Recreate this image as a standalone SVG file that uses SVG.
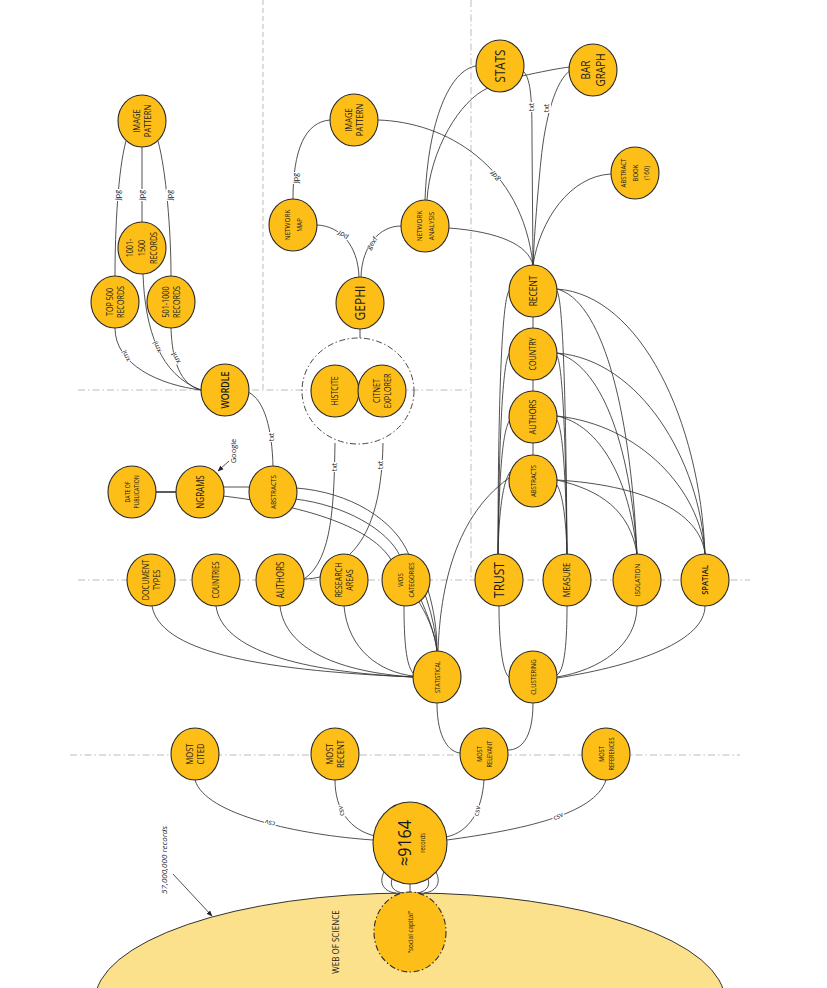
<svg xmlns="http://www.w3.org/2000/svg" width="827" height="988" viewBox="0 0 827 988">
<style>
.bg{fill:#ffffff}
.grid{fill:none;stroke:#b4b4b4;stroke-width:0.9;stroke-dasharray:7 3 1.5 3}
.grid2{fill:none;stroke:#b4b4b4;stroke-width:0.9;stroke-dasharray:5 3}
.node ellipse{fill:#FDBE17;stroke:#2a2a2a;stroke-width:1.1}
.node text{font-family:"Open Sans","Liberation Sans",sans-serif;fill:#1a1a1a;text-anchor:middle}
.dash{fill:none;stroke:#333;stroke-width:0.9;stroke-dasharray:6 2.5 1.5 2.5}
#connectors path{fill:none;stroke:#333;stroke-width:0.85}
#connectors path.thick{stroke-width:1.6}
.lbl{font-family:"Open Sans","Liberation Sans",sans-serif;font-size:7px;fill:#111;text-anchor:middle}
.lblbg{fill:#fff;stroke:none}
.note{font-family:"Open Sans","Liberation Sans",sans-serif;fill:#1a1a1a;text-anchor:middle}
</style>
<defs>
<marker id="arr" viewBox="0 0 10 10" refX="9" refY="5" markerWidth="6" markerHeight="6" orient="auto-start-reverse" markerUnits="userSpaceOnUse">
<path d="M0,1 L10,5 L0,9 z" fill="#222"/>
</marker>
</defs>
<rect class="bg" x="0" y="0" width="827" height="988"/>

<g id="web-of-science">
<ellipse cx="410" cy="1001" rx="315" ry="108" fill="#FCE18C" stroke="#333" stroke-width="1"/>
<text class="note" font-size="9.5" transform="translate(336,942) rotate(-90) scale(0.85,1)" y="3.4">WEB OF SCIENCE</text>
</g>

<g id="grid">
<path class="grid" d="M78,390 L470,390"/>
<path class="grid" d="M78,580 L750,580"/>
<path class="grid" d="M70,755 L740,755"/>
<path class="grid2" d="M263,0 L263,390"/>
<path class="grid" d="M471,0 L471,580"/>
</g>

<g id="connectors">
<path d="M126,141 C118,170 115,230 115,276"/>
<path d="M142,147 L142,222"/>
<path d="M158,141 C166,170 171,230 171,276"/>
<path d="M115,328 C115,365 160,385 201,390"/>
<path d="M143,274 C145,330 160,375 201,390"/>
<path d="M171,328 C172,360 180,385 201,390"/>
<path d="M248,392 C265,400 272,430 273,466"/>
<path class="thick" d="M156,492 L176,492"/>
<path d="M224,487 L249,487"/>
<path d="M223,496 C300,505 368,525 390,558 C405,585 432,610 437,651"/>
<path d="M296,488 C350,492 395,520 409,555 C422,585 435,615 437,651"/>
<path d="M295,499 C345,505 388,530 400,556 C416,590 433,620 437,651"/>
<path d="M428,590 C434,610 437,630 437,651"/>
<path d="M335,443 C334,500 333,560 304,579"/>
<path d="M304,579 C310,579 315,578 320,577"/>
<path d="M383,443 C382,500 370,535 350,554"/>
<path d="M360,329 L360,338"/>
<path d="M359,277 C358,245 340,226 317,225"/>
<path d="M361,277 C362,245 380,226 401,226"/>
<path d="M293,199 C293,150 305,122 330,120"/>
<path d="M378,120 C445,122 522,165 533,265"/>
<path d="M449,228 C500,232 528,245 533,265"/>
<path d="M425,200 C428,120 450,70 476,66"/>
<path d="M427,200 C430,150 460,100 488,88"/>
<path d="M524,72 C531,80 532,100 532,140 L533,265"/>
<path d="M522,76 C540,72 560,68 570,67"/>
<path d="M571,70 C555,80 545,120 541,160 C537,200 534,240 533,265"/>
<path d="M611,174 C570,176 540,220 533,265"/>
<path d="M533,317 L533,328"/>
<path d="M533,380 L533,391"/>
<path d="M533,443 L533,455"/>
<path d="M509,291 C502,300 498,400 498,554"/>
<path d="M509,354 C502,365 499,450 498,554"/>
<path d="M510,420 C502,430 499,480 498,554"/>
<path d="M510,472 C503,482 499,510 498,554"/>
<path d="M557,291 C563,300 566,400 567,554"/>
<path d="M557,356 C563,366 566,450 567,554"/>
<path d="M557,420 C563,430 566,480 567,554"/>
<path d="M557,485 C563,495 566,520 567,554"/>
<path d="M557,289 C600,300 630,400 637,554"/>
<path d="M557,353 C600,365 630,440 637,554"/>
<path d="M557,416 C600,425 630,480 637,554"/>
<path d="M557,480 C600,490 630,510 637,554"/>
<path d="M557,289 C640,295 700,420 705,554"/>
<path d="M557,353 C640,360 700,460 705,554"/>
<path d="M557,416 C640,425 700,490 705,554"/>
<path d="M557,480 C640,485 700,510 705,554"/>
<path d="M438,651 C440,600 450,520 509,478"/>
<path d="M499,606 C499,640 502,672 509,677"/>
<path d="M567,606 C567,640 565,670 557,675"/>
<path d="M637,606 C637,645 600,670 557,677"/>
<path d="M705,606 C705,640 640,665 557,678"/>
<path d="M152,606 C160,650 250,670 413,677"/>
<path d="M216,606 C222,650 300,672 413,677"/>
<path d="M280,606 C285,650 340,672 413,677"/>
<path d="M344,606 C348,650 380,672 413,676"/>
<path d="M404,606 C404,640 406,665 413,673"/>
<path d="M437,703 C437,740 450,752 460,753"/>
<path d="M533,703 C533,740 520,750 508,750"/>
<path d="M195,780 C205,815 300,835 373,840"/>
<path d="M335,780 C335,810 350,830 375,836"/>
<path d="M484,780 C482,810 470,832 446,837"/>
<path d="M606,780 C595,815 520,830 447,840"/>
<path d="M384,872 C378,884 385,892 396,893"/>
<path d="M392,879 C389,888 396,892 403,893"/>
<path d="M410,884 L410,892"/>
<path d="M436,872 C442,884 435,892 424,893"/>
<path d="M428,879 C431,888 424,892 417,893"/>
<path d="M229,461 L218,471" marker-end="url(#arr)"/>
<path d="M173,874 L212,916" marker-end="url(#arr)"/>

<g transform="translate(118,195) rotate(-90)"><rect class="lblbg" x="-6" y="-4" width="12" height="8"/><text class="lbl" dy="2.4">jpg</text></g>
<g transform="translate(142,195) rotate(-90)"><rect class="lblbg" x="-6" y="-4" width="12" height="8"/><text class="lbl" dy="2.4">jpg</text></g>
<g transform="translate(170,195) rotate(-90)"><rect class="lblbg" x="-6" y="-4" width="12" height="8"/><text class="lbl" dy="2.4">jpg</text></g>
<g transform="translate(126,356) rotate(-112)"><rect class="lblbg" x="-6" y="-4" width="12" height="8"/><text class="lbl" dy="2.4">xml</text></g>
<g transform="translate(157,347) rotate(-114)"><rect class="lblbg" x="-6" y="-4" width="12" height="8"/><text class="lbl" dy="2.4">xml</text></g>
<g transform="translate(176,358) rotate(-117)"><rect class="lblbg" x="-6" y="-4" width="12" height="8"/><text class="lbl" dy="2.4">xml</text></g>
<g transform="translate(272,437) rotate(-90)"><rect class="lblbg" x="-5" y="-4" width="10" height="8"/><text class="lbl" dy="2.4">txt</text></g>
<g transform="translate(335,467) rotate(-90)"><rect class="lblbg" x="-5" y="-4" width="10" height="8"/><text class="lbl" dy="2.4">txt</text></g>
<g transform="translate(381,465) rotate(-90)"><rect class="lblbg" x="-5" y="-4" width="10" height="8"/><text class="lbl" dy="2.4">txt</text></g>
<g transform="translate(343,235) rotate(-145)"><rect class="lblbg" x="-6" y="-4" width="12" height="8"/><text class="lbl" dy="2.4">pdf</text></g>
<g transform="translate(372,243) rotate(-55)"><rect class="lblbg" x="-7" y="-4" width="14" height="8"/><text class="lbl" dy="2.4">gexf</text></g>
<g transform="translate(296,178) rotate(-90)"><rect class="lblbg" x="-6" y="-4" width="12" height="8"/><text class="lbl" dy="2.4">jpg</text></g>
<g transform="translate(495,176) rotate(-121)"><rect class="lblbg" x="-6" y="-4" width="12" height="8"/><text class="lbl" dy="2.4">gdf</text></g>
<g transform="translate(532,107) rotate(-90)"><rect class="lblbg" x="-5" y="-4" width="10" height="8"/><text class="lbl" dy="2.4">txt</text></g>
<g transform="translate(547,108) rotate(-90)"><rect class="lblbg" x="-5" y="-4" width="10" height="8"/><text class="lbl" dy="2.4">txt</text></g>
<g transform="translate(270,823) rotate(-165)"><rect class="lblbg" x="-6" y="-4" width="12" height="8"/><text class="lbl" dy="2.4">csv</text></g>
<g transform="translate(341,811) rotate(-100)"><rect class="lblbg" x="-6" y="-4" width="12" height="8"/><text class="lbl" dy="2.4">csv</text></g>
<g transform="translate(477,811) rotate(-78)"><rect class="lblbg" x="-6" y="-4" width="12" height="8"/><text class="lbl" dy="2.4">csv</text></g>
<g transform="translate(558,816) rotate(-25)"><rect class="lblbg" x="-6" y="-4" width="12" height="8"/><text class="lbl" dy="2.4">csv</text></g>
<text class="note" font-size="7.5" transform="translate(233,451) rotate(-90)" dy="2.6">Google</text>
<text class="note" font-size="8" font-style="italic" transform="translate(164,860) rotate(-90)" dy="2.8">57,000,000 records</text>
</g>

<g id="n-image-pattern-1" class="node"><ellipse cx="142" cy="121" rx="24" ry="26"/><text font-size="9.5" transform="translate(142,121) rotate(-90) scale(0.8,1)"><tspan x="0" y="-2.4">IMAGE</tspan><tspan x="0" y="9.2">PATTERN</tspan></text></g>
<g id="n-1001-1500" class="node"><ellipse cx="142" cy="248" rx="24" ry="26"/><text font-size="9" transform="translate(142,248) rotate(-90) scale(0.8,1)"><tspan x="0" y="-8.8">1001-</tspan><tspan x="0" y="3.2">1500</tspan><tspan x="0" y="15.2">RECORDS</tspan></text></g>
<g id="n-top-500" class="node"><ellipse cx="115" cy="302" rx="24" ry="26"/><text font-size="9" transform="translate(115,302) rotate(-90) scale(0.8,1)"><tspan x="0" y="-2">TOP 500</tspan><tspan x="0" y="8.8">RECORDS</tspan></text></g>
<g id="n-501-1000" class="node"><ellipse cx="171" cy="302" rx="24" ry="26"/><text font-size="9" transform="translate(171,302) rotate(-90) scale(0.8,1)"><tspan x="0" y="-2">501-1000</tspan><tspan x="0" y="8.8">RECORDS</tspan></text></g>
<g id="n-wordle" class="node"><ellipse cx="225" cy="390" rx="24" ry="26"/><text font-size="11" font-weight="600" transform="translate(225,390) rotate(-90) scale(0.8,1)" y="4">WORDLE</text></g>

<g id="n-histcite-group">
<ellipse class="dash" cx="358" cy="391" rx="56" ry="53"/>
<g id="n-histcite" class="node"><ellipse cx="335" cy="391" rx="24" ry="26"/><text font-size="9" transform="translate(335,391) rotate(-90) scale(0.8,1)" y="3.2">HISTCITE</text></g>
<g id="n-citnet" class="node"><ellipse cx="382" cy="391" rx="24" ry="26"/><text font-size="9" transform="translate(382,391) rotate(-90) scale(0.8,1)"><tspan x="0" y="-2.5">CITNET</tspan><tspan x="0" y="9">EXPLORER</tspan></text></g>
</g>

<g id="n-gephi" class="node"><ellipse cx="360" cy="303" rx="24" ry="26"/><text font-size="15" transform="translate(360,303) rotate(-90) scale(0.8,1)" y="5.4">GEPHI</text></g>
<g id="n-network-map" class="node"><ellipse cx="293" cy="225" rx="24" ry="26"/><text font-size="8" transform="translate(293,225) rotate(-90) scale(0.8,1)"><tspan x="0" y="-3.1">NETWORK</tspan><tspan x="0" y="8.9">MAP</tspan></text></g>
<g id="n-network-analysis" class="node"><ellipse cx="425" cy="226" rx="24" ry="26"/><text font-size="8" transform="translate(425,226) rotate(-90) scale(0.8,1)"><tspan x="0" y="-3.1">NETWORK</tspan><tspan x="0" y="8.9">ANALYSIS</tspan></text></g>
<g id="n-image-pattern-2" class="node"><ellipse cx="354" cy="120" rx="24" ry="26"/><text font-size="9.5" transform="translate(354,120) rotate(-90) scale(0.8,1)"><tspan x="0" y="-2.4">IMAGE</tspan><tspan x="0" y="9.2">PATTERN</tspan></text></g>
<g id="n-stats" class="node"><ellipse cx="500" cy="66" rx="24" ry="26"/><text font-size="14.5" transform="translate(500,66) rotate(-90) scale(0.8,1)" y="5.2">STATS</text></g>
<g id="n-bar-graph" class="node"><ellipse cx="593" cy="70" rx="24" ry="26"/><text font-size="12.5" transform="translate(593,70) rotate(-90) scale(0.8,1)"><tspan x="0" y="-3">BAR</tspan><tspan x="0" y="12">GRAPH</tspan></text></g>
<g id="n-abstract-book" class="node"><ellipse cx="635" cy="173" rx="24" ry="26"/><text font-size="7.5" transform="translate(635,173) rotate(-90) scale(0.8,1)"><tspan x="0" y="-8.8">ABSTRACT</tspan><tspan x="0" y="2.7">BOOK</tspan><tspan x="0" y="14.2">(160)</tspan></text></g>

<g id="n-recent" class="node"><ellipse cx="533" cy="291" rx="24" ry="26"/><text font-size="10.5" transform="translate(533,291) rotate(-90) scale(0.8,1)" y="3.8">RECENT</text></g>
<g id="n-country" class="node"><ellipse cx="533" cy="354" rx="24" ry="26"/><text font-size="9" transform="translate(533,354) rotate(-90) scale(0.8,1)" y="3.2">COUNTRY</text></g>
<g id="n-authors-r" class="node"><ellipse cx="533" cy="417" rx="24" ry="26"/><text font-size="9.5" transform="translate(533,417) rotate(-90) scale(0.8,1)" y="3.4">AUTHORS</text></g>
<g id="n-abstracts-r" class="node"><ellipse cx="533" cy="481" rx="24" ry="26"/><text font-size="7.5" transform="translate(533,481) rotate(-90) scale(0.8,1)" y="2.7">ABSTRACTS</text></g>
<g id="n-trust" class="node"><ellipse cx="499" cy="580" rx="24" ry="26"/><text font-size="15" transform="translate(499,580) rotate(-90) scale(0.8,1)" y="5.4">TRUST</text></g>
<g id="n-measure" class="node"><ellipse cx="567" cy="580" rx="24" ry="26"/><text font-size="9.5" transform="translate(567,580) rotate(-90) scale(0.8,1)" y="3.4">MEASURE</text></g>
<g id="n-isolation" class="node"><ellipse cx="637" cy="580" rx="24" ry="26"/><text font-size="8" transform="translate(637,580) rotate(-90) scale(0.8,1)" y="2.9">ISOLATION</text></g>
<g id="n-spatial" class="node"><ellipse cx="705" cy="580" rx="24" ry="26"/><text font-size="9.5" font-weight="600" transform="translate(705,580) rotate(-90) scale(0.8,1)" y="3.4">SPATIAL</text></g>
<g id="n-clustering" class="node"><ellipse cx="533" cy="677" rx="24" ry="26"/><text font-size="7.5" transform="translate(533,677) rotate(-90) scale(0.8,1)" y="2.7">CLUSTERING</text></g>
<g id="n-statistical" class="node"><ellipse cx="437" cy="677" rx="24" ry="26"/><text font-size="7" transform="translate(437,677) rotate(-90) scale(0.8,1)" y="2.5">STATISTICAL</text></g>

<g id="n-date-of-publication" class="node"><ellipse cx="132" cy="492" rx="24" ry="26"/><text font-size="6.5" transform="translate(132,492) rotate(-90) scale(0.8,1)"><tspan x="0" y="-2.2">DATE OF</tspan><tspan x="0" y="6.8">PUBLICATION</tspan></text></g>
<g id="n-ngrams" class="node"><ellipse cx="200" cy="492" rx="24" ry="26"/><text font-size="10" transform="translate(200,492) rotate(-90) scale(0.8,1)" y="3.6">NGRAMS</text></g>
<g id="n-abstracts-l" class="node"><ellipse cx="273" cy="492" rx="24" ry="26"/><text font-size="8" transform="translate(273,492) rotate(-90) scale(0.8,1)" y="2.9">ABSTRACTS</text></g>
<g id="n-document-types" class="node"><ellipse cx="151" cy="580" rx="24" ry="26"/><text font-size="9" transform="translate(151,580) rotate(-90) scale(0.8,1)"><tspan x="0" y="-2.3">DOCUMENT</tspan><tspan x="0" y="8.7">TYPES</tspan></text></g>
<g id="n-countries" class="node"><ellipse cx="216" cy="580" rx="24" ry="26"/><text font-size="8.5" transform="translate(216,580) rotate(-90) scale(0.8,1)" y="3.1">COUNTRIES</text></g>
<g id="n-authors-l" class="node"><ellipse cx="280" cy="580" rx="24" ry="26"/><text font-size="10" transform="translate(280,580) rotate(-90) scale(0.8,1)" y="3.6">AUTHORS</text></g>
<g id="n-research-areas" class="node"><ellipse cx="344" cy="580" rx="24" ry="26"/><text font-size="9" transform="translate(344,580) rotate(-90) scale(0.8,1)"><tspan x="0" y="-2.5">RESEARCH</tspan><tspan x="0" y="9">AREAS</tspan></text></g>
<g id="n-wos-categories" class="node"><ellipse cx="406" cy="580" rx="24" ry="26"/><text font-size="7.5" transform="translate(406,580) rotate(-90) scale(0.8,1)"><tspan x="0" y="-2.8">WOS</tspan><tspan x="0" y="8.2">CATEGORIES</tspan></text></g>

<g id="n-most-cited" class="node"><ellipse cx="195" cy="754" rx="24" ry="26"/><text font-size="9.5" transform="translate(195,754) rotate(-90) scale(0.8,1)"><tspan x="0" y="-2.1">MOST</tspan><tspan x="0" y="8.9">CITED</tspan></text></g>
<g id="n-most-recent" class="node"><ellipse cx="335" cy="754" rx="24" ry="26"/><text font-size="9.5" transform="translate(335,754) rotate(-90) scale(0.8,1)"><tspan x="0" y="-2.1">MOST</tspan><tspan x="0" y="8.9">RECENT</tspan></text></g>
<g id="n-most-relevant" class="node"><ellipse cx="484" cy="754" rx="24" ry="26"/><text font-size="7" transform="translate(484,754) rotate(-90) scale(0.8,1)"><tspan x="0" y="-2.5">MOST</tspan><tspan x="0" y="7.5">RELEVANT</tspan></text></g>
<g id="n-most-references" class="node"><ellipse cx="606" cy="754" rx="24" ry="26"/><text font-size="7" transform="translate(606,754) rotate(-90) scale(0.8,1)"><tspan x="0" y="-2.5">MOST</tspan><tspan x="0" y="7.5">REFERENCES</tspan></text></g>

<g id="n-9164" class="node"><ellipse cx="410" cy="843" rx="37" ry="41"/><text transform="translate(410,843) rotate(-90) scale(0.85,1)"><tspan x="0" y="0.8" font-size="19">≈9164</tspan><tspan x="0" y="15" font-size="6.5">records</tspan></text></g>
<g id="n-social-capital" class="node"><ellipse cx="410" cy="932" rx="36" ry="40" style="stroke-dasharray:6 2.5 1.5 2.5"/><text font-size="7.5" transform="translate(410,932) rotate(-90) scale(0.85,1)" y="2.7">“social capital”</text></g>
</svg>
